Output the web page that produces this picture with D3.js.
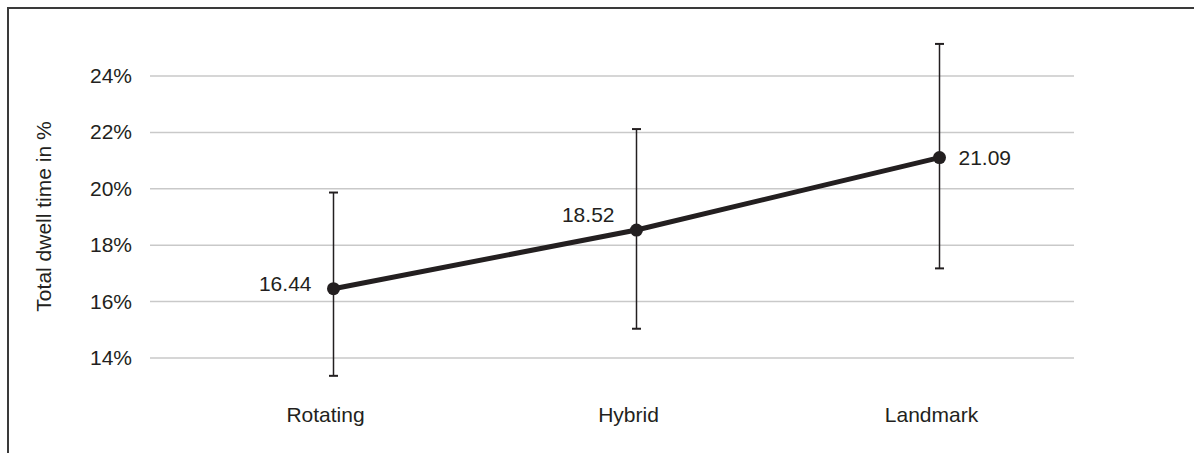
<!DOCTYPE html>
<html>
<head>
<meta charset="utf-8">
<script src="https://cdn.jsdelivr.net/npm/d3@7"></script>
<style>
  html, body { margin: 0; padding: 0; background: #fff; }
  svg { display: block; }
  text { font-family: "Liberation Sans", Arial, Helvetica, sans-serif; fill: #231f20; }
</style>
</head>
<body>
<svg id="chart" width="1194" height="453"></svg>
<script>
// Mean dwell time per navigation condition, with error-bar bounds
const categories = ["Rotating", "Hybrid", "Landmark"];
const means = [16.44, 18.52, 21.09];
const errLow = [13.35, 15.02, 17.16];
const errHigh = [19.85, 22.1, 25.12];
const yTicks = [14, 16, 18, 20, 22, 24];
const yTitle = "Total dwell time in %";

const svg = d3.select("#chart");
const ink = "#231f20";
const fontSize = 21;

// Outer frame (open to the right and bottom)
svg.append("path")
  .attr("d", "M8,460 V8 H1200")
  .attr("fill", "none")
  .attr("stroke", "#3a3a3a")
  .attr("stroke-width", 2);

const y = d3.scaleLinear().domain([14, 24]).range([357.5, 75.5]);
const x = d3.scalePoint().domain(categories).range([333.5, 939.5]);
const gridLeft = 150, gridRight = 1074;

// Horizontal gridlines
const gy = svg.append("g")
  .attr("transform", `translate(${gridRight},0)`)
  .call(d3.axisLeft(y).tickValues(yTicks).tickSize(gridRight - gridLeft).tickFormat(""));
gy.select(".domain").remove();
gy.selectAll(".tick line").attr("stroke", "#c9c9c9").attr("stroke-width", 1.5);

// Tick labels
svg.selectAll("text.ytick")
  .data(yTicks)
  .join("text")
  .attr("class", "ytick")
  .attr("x", 132)
  .attr("y", d => y(d))
  .attr("dy", "0.36em")
  .attr("text-anchor", "end")
  .attr("font-size", fontSize)
  .text(d => d + "%");

// Y-axis title
svg.append("text")
  .attr("transform", `translate(51,${(y(14) + y(24)) / 2}) rotate(-90)`)
  .attr("text-anchor", "middle")
  .attr("font-size", fontSize)
  .text(yTitle);

// Category labels
svg.selectAll("text.xlab")
  .data(categories)
  .join("text")
  .attr("class", "xlab")
  .attr("x", d => x(d) - 8)
  .attr("y", 422)
  .attr("text-anchor", "middle")
  .attr("font-size", fontSize)
  .text(d => d);

// Error bars
const eb = svg.append("g").attr("stroke", ink);
categories.forEach((c, i) => {
  eb.append("line")
    .attr("x1", x(c)).attr("x2", x(c))
    .attr("y1", y(errLow[i])).attr("y2", y(errHigh[i]))
    .attr("stroke-width", 1.5);
  [errLow[i], errHigh[i]].forEach(v => {
    eb.append("line")
      .attr("x1", x(c) - 4.5).attr("x2", x(c) + 4.5)
      .attr("y1", y(v)).attr("y2", y(v))
      .attr("stroke-width", 2);
  });
});

// Mean line and markers
const line = d3.line().x((d, i) => x(categories[i])).y(d => y(d));
svg.append("path")
  .datum(means)
  .attr("d", line)
  .attr("fill", "none")
  .attr("stroke", ink)
  .attr("stroke-width", 5);

svg.selectAll("circle.pt")
  .data(means)
  .join("circle")
  .attr("class", "pt")
  .attr("cx", (d, i) => x(categories[i]))
  .attr("cy", d => y(d))
  .attr("r", 6.5)
  .attr("fill", ink);

// Value labels
const labelPos = [
  { dx: -22, dy: -5, anchor: "end" },
  { dx: -22, dy: -15.5, anchor: "end" },
  { dx: 19, dy: 0, anchor: "start" }
];
svg.selectAll("text.val")
  .data(means)
  .join("text")
  .attr("class", "val")
  .attr("x", (d, i) => x(categories[i]) + labelPos[i].dx)
  .attr("y", (d, i) => y(d) + labelPos[i].dy)
  .attr("dy", "0.36em")
  .attr("text-anchor", (d, i) => labelPos[i].anchor)
  .attr("font-size", fontSize)
  .text(d => d.toFixed(2));
</script>
</body>
</html>
